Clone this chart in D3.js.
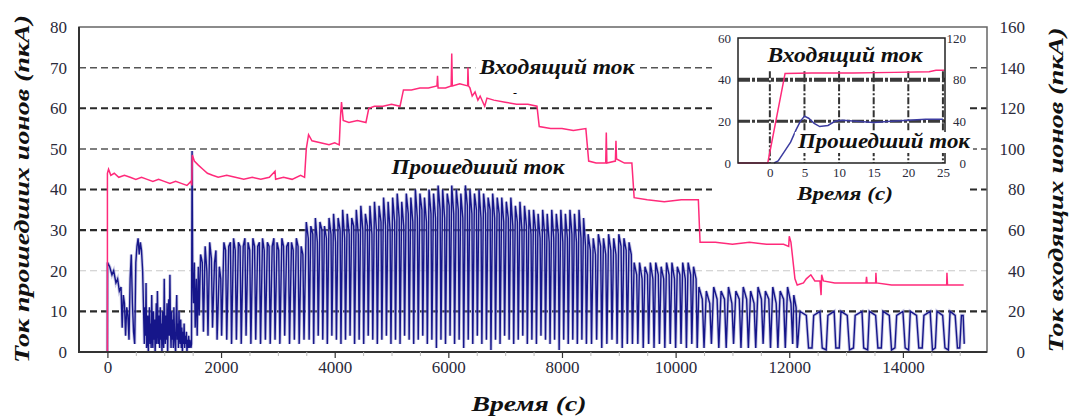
<!DOCTYPE html>
<html>
<head>
<meta charset="utf-8">
<script src="https://cdn.jsdelivr.net/npm/d3@7/dist/d3.min.js"></script>
<style>
  body { margin: 0; background: #fff; }
  svg text { font-family: 'Liberation Serif', 'Times New Roman', serif !important; }
</style>
</head>
<body>
<div id="chart"></div>
<script>
// axis ranges and ticks
var timeRange = [-500, 15480]
var timeTicks = [0, 2000, 4000, 6000, 8000, 10000, 12000, 14000]
var timeMinorTicks = [500, 1000, 1500, 2500, 3000, 3500, 4500, 5000, 5500, 6500, 7000, 7500, 8500, 9000, 9500,
  10500, 11000, 11500, 12500, 13000, 13500, 14500, 15000]
var passedRange = [0, 80]
var passedTicks = [0, 10, 20, 30, 40, 50, 60, 70, 80]
var incomingRange = [0, 160]
var incomingTicks = [0, 20, 40, 60, 80, 100, 120, 140, 160]
var gridLevels = [10, 20, 30, 40, 50, 60, 70]

// incoming ion current (pA, right axis)
var incoming = [
  [0, 0], [0, 88], [20, 90], [60, 87], [120, 88], [200, 86], [300, 87], [400, 86], [500, 85], [600, 86], [700, 85],
  [800, 84], [900, 85], [1000, 84], [1100, 83], [1200, 84], [1300, 83], [1400, 82], [1470, 84], [1485, 82],
  [1495, 97], [1530, 94], [1600, 92], [1680, 90], [1760, 88], [1850, 87], [1950, 86], [2100, 87], [2250, 86],
  [2400, 85], [2550, 86], [2700, 85], [2850, 86], [2950, 89], [2960, 85], [3100, 86], [3250, 85], [3400, 87], [3470, 86],
  [3500, 100], [3540, 107], [3600, 104], [3750, 103], [3900, 102], [4000, 103], [4080, 102],
  [4100, 115], [4120, 123], [4150, 114], [4250, 113], [4400, 114], [4550, 113],
  [4600, 120], [4700, 121], [4850, 121], [5000, 122], [5150, 121],
  [5210, 129], [5350, 129], [5500, 130], [5650, 130], [5800, 131], [5810, 136], [5820, 130], [5950, 130], [6050, 131],
  [6060, 147], [6070, 131], [6200, 132], [6340, 131], [6345, 140], [6355, 131], [6380, 130],
  [6420, 126], [6470, 128], [6520, 124], [6560, 126], [6640, 121], [6680, 125], [6800, 124], [7000, 123], [7200, 122],
  [7400, 122], [7560, 121],
  [7600, 111], [7800, 110], [8000, 110], [8200, 109], [8420, 110],
  [8470, 94], [8600, 93], [8770, 93], [8780, 108], [8790, 93], [8940, 94], [8950, 104], [8960, 95], [9100, 93], [9230, 93],
  [9270, 76], [9500, 75], [9800, 74], [10100, 75], [10400, 75],
  [10430, 54], [10700, 54], [11000, 53], [11300, 54], [11600, 53], [11900, 53], [11990, 52], [12000, 57], [12030, 54],
  [12100, 36], [12140, 33], [12250, 34], [12300, 36], [12380, 38], [12450, 35], [12540, 35], [12560, 28], [12570, 38],
  [12600, 35], [12800, 34], [13000, 34], [13200, 34], [13350, 34], [13360, 37], [13370, 34], [13520, 34], [13525, 39],
  [13535, 34], [13800, 33], [14100, 33], [14400, 33], [14600, 33], [14770, 33], [14775, 39], [14785, 33], [15070, 33]
]

// passed ion current (pA, left axis), by stage
var passedStart = [
  [0, 0], [2, 22], [40, 21], [80, 19], [110, 20], [150, 17], [180, 18], [210, 15], [240, 16], [260, 6], [280, 14],
  [300, 12], [320, 4], [340, 11], [360, 9], [380, 3], [400, 18], [420, 24], [440, 12], [460, 5], [480, 2], [500, 22],
  [520, 26], [540, 28], [560, 24], [580, 27], [600, 25], [620, 20], [640, 8], [650, 2], [660, 11], [670, 4], [680, 17],
  [690, 1], [700, 3], [710, 9], [720, 0], [730, 6], [740, 11], [750, 2], [760, 7], [770, 1], [780, 14], [790, 4],
  [800, 1], [810, 10], [820, 3], [830, 8], [840, 0], [850, 5], [860, 12], [870, 2], [880, 15], [890, 6], [900, 2],
  [910, 9], [920, 1], [930, 11], [940, 3], [950, 7], [960, 0], [970, 10], [980, 4], [990, 1], [1000, 18], [1010, 5],
  [1020, 2], [1030, 9], [1040, 3], [1050, 12], [1060, 0], [1070, 7], [1080, 13], [1090, 4], [1100, 19], [1110, 6],
  [1120, 1], [1130, 10], [1140, 3], [1150, 8], [1160, 1], [1170, 11], [1180, 5], [1190, 2], [1200, 0], [1210, 9],
  [1220, 14], [1230, 3], [1240, 7], [1250, 1], [1260, 10], [1270, 4], [1280, 2], [1290, 8], [1300, 1], [1310, 6],
  [1320, 0], [1330, 5], [1340, 2], [1350, 7], [1360, 1], [1370, 4], [1380, 2], [1390, 5], [1400, 0], [1410, 3],
  [1420, 1], [1430, 4], [1440, 1], [1450, 3], [1460, 2], [1470, 1], [1480, 2]
]
var passedRamp = [
  [1490, 49.5], [1500, 20], [1515, 12], [1530, 22], [1545, 6], [1565, 18], [1580, 4], [1600, 21], [1615, 9],
  [1640, 24], [1670, 22], [1690, 5], [1720, 26], [1750, 20], [1770, 4], [1800, 27], [1830, 23], [1850, 6],
  [1885, 22], [1910, 25], [1930, 3], [1970, 21], [1995, 18], [2010, 4], [2050, 27], [2080, 25], [2100, 3],
  [2135, 26], [2165, 27], [2185, 2], [2220, 28], [2250, 25], [2270, 3], [2305, 27], [2335, 26], [2355, 2],
  [2390, 26], [2420, 28], [2440, 4], [2475, 27], [2505, 25], [2525, 2], [2560, 28], [2590, 26], [2610, 3],
  [2645, 26], [2675, 27], [2695, 2], [2730, 28], [2760, 25], [2780, 3], [2815, 27], [2845, 26], [2865, 2],
  [2900, 26], [2930, 28], [2950, 3], [2985, 27], [3015, 25], [3035, 2], [3070, 28], [3100, 26], [3120, 4],
  [3155, 26], [3185, 27], [3205, 2], [3240, 27], [3270, 25], [3290, 3], [3325, 28], [3355, 26], [3375, 2],
  [3410, 26], [3440, 24], [3460, 3]
]
var passedPeak = [
  [3500, 32], [3535, 28], [3550, 3], [3580, 31], [3615, 29], [3630, 2], [3660, 33], [3695, 27], [3710, 4],
  [3740, 32], [3775, 30], [3790, 3], [3820, 31], [3855, 28], [3870, 2], [3900, 33], [3935, 29], [3950, 4],
  [3980, 34], [4015, 27], [4030, 3], [4060, 33], [4095, 30], [4110, 2], [4140, 35], [4175, 28], [4190, 3],
  [4220, 34], [4255, 29], [4270, 4], [4300, 33], [4335, 31], [4350, 2], [4380, 35], [4415, 29], [4430, 3],
  [4460, 36], [4495, 30], [4510, 2], [4540, 34], [4575, 31], [4590, 4], [4620, 36], [4655, 29], [4670, 3],
  [4700, 37], [4735, 30], [4750, 2], [4780, 36], [4815, 32], [4830, 3], [4860, 38], [4895, 31], [4910, 4],
  [4940, 37], [4975, 30], [4990, 2], [5020, 38], [5055, 32], [5070, 3], [5100, 39], [5135, 33], [5150, 2],
  [5180, 37], [5215, 31], [5230, 4], [5260, 39], [5295, 34], [5310, 3], [5340, 38], [5375, 32], [5390, 2],
  [5420, 40], [5455, 33], [5470, 3], [5500, 39], [5535, 35], [5550, 4], [5580, 38], [5615, 32], [5630, 2],
  [5660, 40], [5695, 34], [5710, 3], [5740, 39], [5775, 33], [5790, 1], [5820, 41], [5855, 35], [5870, 3],
  [5900, 40], [5935, 33], [5950, 2], [5980, 39], [6015, 36], [6030, 4], [6060, 41], [6095, 34], [6110, 2],
  [6140, 40], [6175, 35], [6190, 3], [6220, 39], [6255, 33], [6270, 1], [6300, 41], [6335, 36], [6350, 3],
  [6380, 40], [6415, 34], [6430, 2], [6460, 39], [6495, 35], [6510, 4], [6540, 40], [6575, 33], [6590, 2],
  [6620, 39], [6655, 34], [6670, 3], [6700, 38], [6735, 35], [6750, 0.5], [6780, 39], [6815, 33], [6830, 3],
  [6860, 38], [6895, 34], [6910, 2], [6940, 38], [6975, 32], [6990, 4], [7020, 37], [7055, 33], [7070, 3],
  [7100, 38], [7135, 31], [7150, 2], [7180, 36], [7215, 32], [7230, 3], [7260, 37], [7295, 30], [7310, 4],
  [7340, 36], [7375, 31], [7390, 2], [7420, 35], [7455, 29], [7470, 3], [7500, 35], [7535, 30], [7550, 2],
  [7580, 34], [7615, 28], [7630, 4], [7660, 35], [7695, 29], [7710, 3], [7740, 34], [7775, 27], [7790, 2],
  [7820, 35], [7855, 28], [7870, 3], [7900, 34], [7935, 29], [7950, 0.5], [7980, 35], [8015, 27], [8030, 3],
  [8060, 34], [8095, 28], [8110, 2], [8140, 35], [8175, 29], [8190, 3], [8220, 34], [8255, 27], [8270, 2],
  [8300, 35], [8335, 28], [8350, 3], [8380, 33], [8415, 26], [8430, 2]
]
var passedFall = [
  [8460, 29], [8500, 25], [8520, 2], [8550, 28], [8590, 24], [8610, 3], [8640, 29], [8680, 26], [8700, 1],
  [8730, 28], [8770, 24], [8790, 2], [8820, 29], [8860, 25], [8880, 3], [8910, 28], [8950, 24], [8970, 2],
  [9000, 29], [9040, 26], [9060, 1], [9090, 28], [9130, 25], [9150, 2], [9180, 27], [9220, 24], [9240, 2],
  [9270, 22], [9315, 19], [9335, 2], [9365, 22], [9410, 18], [9430, 1], [9460, 21], [9505, 19], [9525, 2],
  [9555, 22], [9600, 18], [9620, 1], [9650, 22], [9695, 19], [9715, 2], [9745, 21], [9790, 18], [9810, 1],
  [9840, 22], [9885, 19], [9905, 2], [9935, 22], [9980, 18], [10000, 1], [10030, 21], [10075, 19], [10095, 2],
  [10125, 22], [10170, 18], [10190, 1], [10220, 22], [10265, 19], [10285, 2], [10315, 21], [10360, 18], [10380, 1]
]
var passedLow = [
  [10410, 16], [10470, 13], [10500, 1], [10540, 15], [10600, 12], [10630, 2], [10670, 16], [10730, 13], [10760, 1],
  [10800, 15], [10860, 13], [10890, 1], [10930, 16], [10990, 12], [11020, 2], [11060, 15], [11120, 13], [11150, 1],
  [11190, 16], [11250, 13], [11280, 1], [11320, 15], [11380, 12], [11410, 1], [11450, 16], [11510, 13], [11540, 2],
  [11580, 15], [11640, 13], [11670, 1], [11710, 16], [11770, 12], [11800, 1], [11840, 15], [11900, 13], [11930, 1],
  [11970, 16], [12030, 12], [12060, 2], [12080, 14], [12120, 11], [12140, 1]
]
var passedEnd = [
  [12150, 2], [12190, 10], [12300, 9], [12340, 1], [12400, 1], [12430, 9], [12540, 10], [12580, 1], [12650, 0.5],
  [12680, 9], [12790, 10], [12820, 1], [12880, 1], [12910, 10], [13020, 9], [13060, 0.5], [13130, 1], [13160, 9],
  [13280, 10], [13310, 1], [13380, 0.5], [13410, 10], [13520, 9], [13560, 1], [13620, 1], [13650, 10], [13760, 9],
  [13800, 0.5], [13860, 1], [13890, 9], [14000, 10], [14040, 1], [14100, 0.5], [14130, 10], [14240, 9], [14280, 1],
  [14340, 1], [14370, 9], [14480, 10], [14520, 0.5], [14570, 1], [14600, 10], [14700, 9], [14740, 1], [14800, 0.5],
  [14830, 10], [14920, 9], [14960, 1], [15000, 1], [15030, 9], [15060, 9], [15080, 2]
]

// inset: first seconds
var insetRange = [-4.6, 25.3]
var insetTicks = [0, 5, 10, 15, 20, 25]
var insetPassedTicks = [0, 20, 40, 60]
var insetIncomingTicks = [0, 40, 80, 120]
var insetIncoming = [[-4.6, 0], [-0.3, 0], [2.2, 86], [6, 86.5], [12, 86.5], [18, 87], [23, 87.5], [24, 89], [25.2, 89]]
var insetPassed = [
  [0.6, 0], [1.2, 1], [2, 5], [3, 10], [3.8, 16], [4.4, 20], [5, 22.5], [5.6, 21.5], [6.4, 19], [7.2, 17.5],
  [8.4, 18], [9.4, 20], [10.5, 20.5], [12.5, 20], [15, 19.5], [17.5, 20], [20, 20.5], [22.5, 21], [25, 21]
]

var pink = '#ff2a7a'
var navy = '#16168a'
var serif = "'Liberation Serif', 'Times New Roman', serif"
var frame = { left: 79, right: 987, top: 27, bottom: 352 }

var svg = d3.select('#chart')
  .append('svg')
  .attr('width', 1070)
  .attr('height', 416)

var x = d3.scaleLinear().domain(timeRange).range([frame.left, frame.right])
var yLeft = d3.scaleLinear().domain(passedRange).range([frame.bottom, frame.top])
var yRight = d3.scaleLinear().domain(incomingRange).range([frame.bottom, frame.top])

// grid lines (left and right grids overlap)
svg.append('g')
  .selectAll('line')
  .data(gridLevels)
  .join('line')
  .attr('x1', frame.left)
  .attr('x2', frame.right)
  .attr('y1', d => yLeft(d))
  .attr('y2', d => yLeft(d))
  .attr('stroke', d => d == 20 ? '#c8c8c8' : (d == 50 || d == 70 ? '#555' : '#2a2a2a'))
  .attr('stroke-width', d => d == 20 ? 1 : (d == 50 || d == 70 ? 1.5 : 2.2))
  .attr('stroke-dasharray', '7,4')

// passed current: soft halo first, then the line itself
var passed = [].concat(passedStart, passedRamp, passedPeak, passedFall, passedLow, passedEnd)
var passedLine = d3.line().x(d => x(d[0])).y(d => yLeft(d[1]))
svg.append('path')
  .datum(passed)
  .attr('d', passedLine)
  .attr('fill', 'none')
  .attr('stroke', '#9d9dcf')
  .attr('stroke-width', 3.2)
  .attr('stroke-opacity', 0.55)
svg.append('path')
  .datum(passed)
  .attr('d', passedLine)
  .attr('fill', 'none')
  .attr('stroke', navy)
  .attr('stroke-width', 1.4)

// incoming current
svg.append('path')
  .datum(incoming)
  .attr('d', d3.line().x(d => x(d[0])).y(d => yRight(d[1])))
  .attr('fill', 'none')
  .attr('stroke', pink)
  .attr('stroke-width', 1.5)

// frame
svg.append('rect')
  .attr('x', frame.left)
  .attr('y', frame.top)
  .attr('width', frame.right - frame.left)
  .attr('height', frame.bottom - frame.top)
  .attr('fill', 'none')
  .attr('stroke', '#666')
  .attr('stroke-width', 1.5)
svg.append('path')
  .attr('d', 'M' + frame.left + ',' + frame.top + 'V' + frame.bottom + 'H' + frame.right)
  .attr('fill', 'none')
  .attr('stroke', '#333')
  .attr('stroke-width', 2)

// axes
var xMinor = svg.append('g')
  .attr('transform', 'translate(0,' + frame.bottom + ')')
  .call(d3.axisBottom(x).tickValues(timeMinorTicks).tickSize(4).tickFormat(''))
xMinor.select('.domain').remove()
xMinor.selectAll('line').attr('stroke', '#bbb')

var xAxis = svg.append('g')
  .attr('transform', 'translate(0,' + frame.bottom + ')')
  .call(d3.axisBottom(x).tickValues(timeTicks).tickSize(6).tickPadding(3).tickFormat(d3.format('d')))
xAxis.select('.domain').remove()
xAxis.selectAll('line').attr('stroke', '#333').attr('stroke-width', 1.2)

var leftAxis = svg.append('g')
  .attr('transform', 'translate(' + frame.left + ',0)')
  .call(d3.axisLeft(yLeft).tickValues(passedTicks).tickSize(0).tickPadding(12))
leftAxis.select('.domain').remove()

var rightAxis = svg.append('g')
  .attr('transform', 'translate(' + frame.right + ',0)')
  .call(d3.axisRight(yRight).tickValues(incomingTicks).tickSize(0))
rightAxis.select('.domain').remove()
rightAxis.selectAll('text').attr('x', 38).attr('text-anchor', 'end')

svg.selectAll('.tick text')
  .style('font-family', serif)
  .attr('font-size', 17)
  .attr('fill', '#2a2a3a')

// titles, stretched to the widths seen in the picture
function label(g, txt, px, py, size, len, rotate) {
  var t = g.append('text')
    .attr('x', px)
    .attr('y', py)
    .attr('text-anchor', 'middle')
    .attr('font-size', size)
    .attr('font-weight', 'bold')
    .attr('font-style', 'italic')
    .attr('textLength', len)
    .attr('lengthAdjust', 'spacingAndGlyphs')
    .style('font-family', serif)
    .attr('fill', '#111')
    .text(txt)
  if (rotate) t.attr('transform', 'rotate(-90,' + px + ',' + py + ')')
  return t
}
function whiteBehind(g, t, pad) {
  var b = t.node().getBBox()
  g.insert('rect', function () { return t.node() })
    .attr('x', b.x - pad)
    .attr('y', b.y + 2)
    .attr('width', b.width + 2 * pad)
    .attr('height', b.height - 2)
    .attr('fill', '#fff')
}

label(svg, 'Время (с)', 529, 411, 21, 115)
label(svg, 'Ток прошедших ионов (пкА)', 29, 189, 22, 348, true)
label(svg, 'Ток входящих ионов (пкА)', 1063, 190, 22, 325, true)
whiteBehind(svg, label(svg, 'Входящий ток', 557, 74, 20, 155), 3)
label(svg, 'Прошедший ток', 478, 174, 20, 173)
svg.append('text').attr('x', 515).attr('y', 97).attr('text-anchor', 'middle').attr('font-size', 12).text('-')

// inset
var inset = svg.append('g')
inset.append('rect')
  .attr('x', 712).attr('y', 28).attr('width', 254).attr('height', 179)
  .attr('fill', '#fff')

var xi = d3.scaleLinear().domain(insetRange).range([738, 945])
var yiLeft = d3.scaleLinear().domain([0, 60]).range([163, 38])
var yiRight = d3.scaleLinear().domain([0, 120]).range([163, 38])

inset.append('g')
  .selectAll('line')
  .data(insetTicks)
  .join('line')
  .attr('x1', d => xi(d)).attr('x2', d => xi(d))
  .attr('y1', yiLeft(44)).attr('y2', yiLeft(0))
  .attr('stroke', '#333')
  .attr('stroke-width', 2)
  .attr('stroke-dasharray', '7,2,2,2')

inset.append('g')
  .selectAll('line')
  .data([20, 40])
  .join('line')
  .attr('x1', 738).attr('x2', 945)
  .attr('y1', d => yiLeft(d)).attr('y2', d => yiLeft(d))
  .attr('stroke', '#3a3a3a')
  .attr('stroke-width', d => d == 40 ? 4 : 3)
  .attr('stroke-dasharray', '12,2,3,2')

inset.append('path')
  .datum(insetIncoming)
  .attr('d', d3.line().x(d => xi(d[0])).y(d => yiRight(d[1])))
  .attr('fill', 'none')
  .attr('stroke', pink)
  .attr('stroke-width', 1.5)

inset.append('path')
  .datum(insetPassed)
  .attr('d', d3.line().x(d => xi(d[0])).y(d => yiLeft(d[1])))
  .attr('fill', 'none')
  .attr('stroke', '#3c3ca0')
  .attr('stroke-width', 1.5)

inset.append('rect')
  .attr('x', 738).attr('y', 38).attr('width', 207).attr('height', 125)
  .attr('fill', 'none')
  .attr('stroke', '#222')
  .attr('stroke-width', 1.5)

var xiAxis = inset.append('g')
  .attr('transform', 'translate(0,163)')
  .call(d3.axisBottom(xi).tickValues(insetTicks).tickSize(0).tickPadding(5))
xiAxis.select('.domain').remove()
var yiLeftAxis = inset.append('g')
  .attr('transform', 'translate(738,0)')
  .call(d3.axisLeft(yiLeft).tickValues(insetPassedTicks).tickSize(0).tickPadding(7))
yiLeftAxis.select('.domain').remove()
var yiRightAxis = inset.append('g')
  .attr('transform', 'translate(945,0)')
  .call(d3.axisRight(yiRight).tickValues(insetIncomingTicks).tickSize(0))
yiRightAxis.select('.domain').remove()
yiRightAxis.selectAll('text').attr('x', 21).attr('text-anchor', 'end')
inset.selectAll('.tick text')
  .style('font-family', serif)
  .attr('font-size', 13)
  .attr('fill', '#2a2a3a')

whiteBehind(inset, label(inset, 'Входящий ток', 845, 62, 20, 155), 4)
whiteBehind(inset, label(inset, 'Прошедший ток', 884, 148, 20, 172), 2)
label(inset, 'Время (с)', 845, 200, 18, 96)
</script>
</body>
</html>
